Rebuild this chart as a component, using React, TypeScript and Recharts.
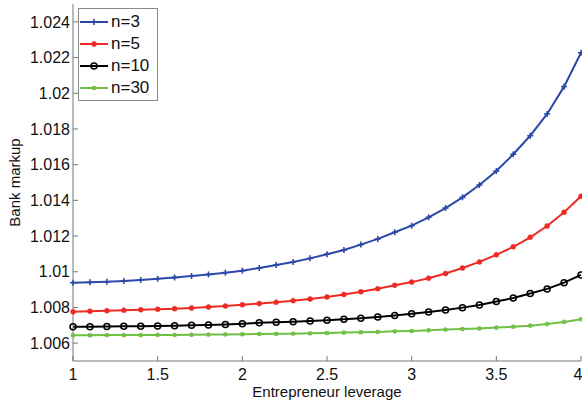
import React from 'react';
import { LineChart, Line, XAxis, YAxis, Legend } from 'recharts';

const leverage = [1.0, 1.1, 1.2, 1.3, 1.4, 1.5, 1.6, 1.7, 1.8, 1.9, 2.0, 2.1, 2.2, 2.3, 2.4, 2.5, 2.6, 2.7, 2.8, 2.9, 3.0, 3.1, 3.2, 3.3, 3.4, 3.5, 3.6, 3.7, 3.8, 3.9, 4.0];

const markupN3 = [1.00939, 1.00941, 1.00944, 1.00948, 1.00954, 1.00961, 1.00968, 1.00976, 1.00985, 1.00995, 1.01006, 1.01021, 1.01038, 1.01055, 1.01075, 1.01098, 1.01122, 1.01152, 1.01184, 1.01221, 1.01258, 1.01305, 1.01357, 1.01417, 1.01486, 1.01564, 1.01658, 1.01762, 1.01884, 1.02037, 1.02227];

const markupN5 = [1.00776, 1.00779, 1.00782, 1.00784, 1.00787, 1.0079, 1.00793, 1.00797, 1.00802, 1.00808, 1.00815, 1.00822, 1.00829, 1.00838, 1.00847, 1.00859, 1.00873, 1.00888, 1.00905, 1.00924, 1.00942, 1.00964, 1.0099, 1.01021, 1.01055, 1.01095, 1.0114, 1.01193, 1.01256, 1.01333, 1.01423];

const markupN10 = [1.00692, 1.00692, 1.00693, 1.00694, 1.00695, 1.00696, 1.00698, 1.007, 1.00702, 1.00705, 1.00709, 1.00714, 1.00717, 1.0072, 1.00724, 1.00728, 1.00734, 1.0074, 1.00747, 1.00755, 1.00765, 1.00775, 1.00786, 1.00799, 1.00814, 1.00833, 1.00853, 1.00878, 1.00904, 1.00939, 1.00982];

const markupN30 = [1.00644, 1.00644, 1.00645, 1.00645, 1.00645, 1.00646, 1.00646, 1.00647, 1.00648, 1.00649, 1.0065, 1.00651, 1.00652, 1.00653, 1.00655, 1.00657, 1.00659, 1.00661, 1.00663, 1.00666, 1.00668, 1.00672, 1.00676, 1.00679, 1.00682, 1.00687, 1.00692, 1.00698, 1.00707, 1.00719, 1.00734];

const xTicks = [1, 1.5, 2, 2.5, 3, 3.5, 4];
const yTicks = [1.006, 1.008, 1.01, 1.012, 1.014, 1.016, 1.018, 1.02, 1.022, 1.024];

const data = leverage.map((x, i) => ({
  x,
  n3: markupN3[i],
  n5: markupN5[i],
  n10: markupN10[i],
  n30: markupN30[i],
}));

const series = [
  { key: 'n3', name: 'n=3', color: '#2C48A8', marker: 'plus' },
  { key: 'n5', name: 'n=5', color: '#EE2A25', marker: 'dot' },
  { key: 'n10', name: 'n=10', color: '#000000', marker: 'circle' },
  { key: 'n30', name: 'n=30', color: '#70BF45', marker: 'star' },
];

const FONT = '"Liberation Sans", Arial, Helvetica, sans-serif';

function Marker({ kind, cx, cy, color }: { kind: string; cx: number; cy: number; color: string }) {
  if (cx == null || cy == null || isNaN(cx) || isNaN(cy)) return null;
  if (kind === 'plus') {
    const a = 3;
    return (
      <g stroke={color} strokeWidth={1.6}>
        <line x1={cx - a} y1={cy} x2={cx + a} y2={cy} />
        <line x1={cx} y1={cy - a} x2={cx} y2={cy + a} />
      </g>
    );
  }
  if (kind === 'dot') {
    return <circle cx={cx} cy={cy} r={2.5} fill={color} stroke={color} strokeWidth={0.5} />;
  }
  if (kind === 'circle') {
    return <circle cx={cx} cy={cy} r={3} fill="none" stroke={color} strokeWidth={1.5} />;
  }
  const a = 2.3;
  return (
    <g stroke={color} strokeWidth={1.3}>
      <line x1={cx - a} y1={cy} x2={cx + a} y2={cy} />
      <line x1={cx} y1={cy - a} x2={cx} y2={cy + a} />
      <line x1={cx - a * 0.75} y1={cy - a * 0.75} x2={cx + a * 0.75} y2={cy + a * 0.75} />
      <line x1={cx - a * 0.75} y1={cy + a * 0.75} x2={cx + a * 0.75} y2={cy - a * 0.75} />
    </g>
  );
}

const fmt = (v: number) => String(Number(v.toFixed(3)));

function LegendBox() {
  return (
    <div
      style={{
        boxSizing: 'border-box',
        width: 80,
        height: 93,
        border: '1px solid #8a8a8a',
        background: '#fff',
        paddingTop: 2,
        fontFamily: FONT,
        fontSize: 17,
        color: '#111',
      }}
    >
      {series.map((s) => (
        <div key={s.key} style={{ display: 'flex', alignItems: 'center', height: 22 }}>
          <svg width={32} height={22} style={{ display: 'block' }}>
            <line x1={1} y1={11} x2={29} y2={11} stroke={s.color} strokeWidth={2} />
            <Marker kind={s.marker} cx={15} cy={11} color={s.color} />
          </svg>
          <span style={{ lineHeight: '22px' }}>{s.name}</span>
        </div>
      ))}
    </div>
  );
}

export default function App() {
  return (
    <div style={{ position: 'fixed', left: 0, top: 0, width: 582, height: 401, background: '#fff' }}>
      <LineChart
        width={582}
        height={401}
        data={data}
        margin={{ top: 4, right: 1, bottom: 0, left: 0 }}
        style={{ fontFamily: FONT }}
      >
        <XAxis
          dataKey="x"
          type="number"
          domain={[1, 4]}
          ticks={xTicks}
          height={40}
          tickSize={-5}
          tickMargin={12.5}
          stroke="#777"
          tick={{ fill: '#111', fontSize: 16, fontFamily: FONT }}
          tickFormatter={(v: number) => String(v)}
          label={{
            content: (p: any) => {
              const vb = p.viewBox || {};
              return (
                <text
                  x={vb.x + vb.width / 2}
                  y={397}
                  textAnchor="middle"
                  fontSize={15}
                  fontFamily={FONT}
                  fill="#111"
                >
                  Entrepreneur leverage
                </text>
              );
            },
          }}
        />
        <YAxis
          type="number"
          domain={[1.005, 1.025]}
          ticks={yTicks}
          width={73}
          tickSize={-5}
          tickMargin={8}
          stroke="#777"
          tick={{ fill: '#111', fontSize: 16, fontFamily: FONT }}
          tickFormatter={fmt}
          label={{
            content: (p: any) => {
              const vb = p.viewBox || {};
              const cx = 20;
              const cy = vb.y + vb.height / 2;
              return (
                <text
                  x={cx}
                  y={cy}
                  textAnchor="middle"
                  fontSize={15}
                  fontFamily={FONT}
                  fill="#111"
                  transform={`rotate(-90, ${cx}, ${cy})`}
                >
                  Bank markup
                </text>
              );
            },
          }}
        />
        <Legend
          layout="vertical"
          align="center"
          verticalAlign="middle"
          wrapperStyle={{ position: 'absolute', left: 78, top: 8, width: 80, height: 93 }}
          content={() => <LegendBox />}
        />
        {series.map((s) => (
          <Line
            key={s.key}
            dataKey={s.key}
            name={s.name}
            type="linear"
            stroke={s.color}
            strokeWidth={2}
            isAnimationActive={false}
            dot={(p: any) => (
              <Marker key={`${s.key}-${p.index}`} kind={s.marker} cx={p.cx} cy={p.cy} color={s.color} />
            )}
            activeDot={false}
          />
        ))}
      </LineChart>
    </div>
  );
}
